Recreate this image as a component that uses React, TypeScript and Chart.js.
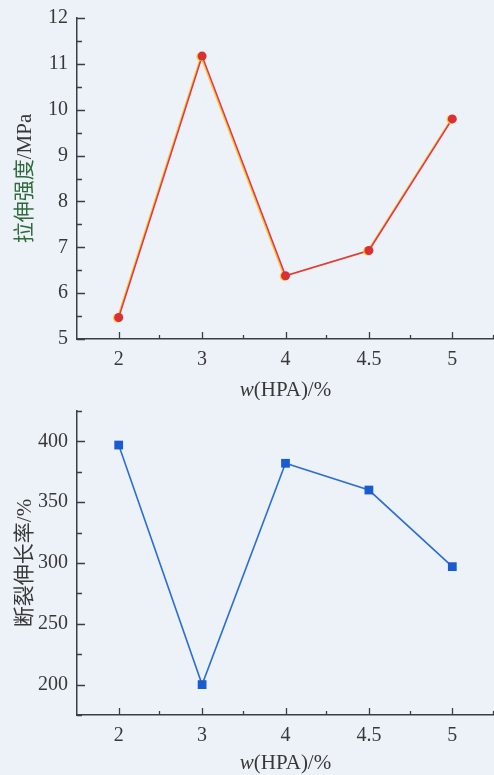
import React, { useEffect, useRef } from "react";
import { Chart, registerables } from "chart.js";

Chart.register(...registerables);

const xLabels = ["2", "3", "4", "4.5", "5"];
const tensileStrength = [5.47, 11.17, 6.38, 6.93, 9.8];
const elongation = [397, 200, 382, 360, 297];

const BG = "#edf2f8";
const AXIS = "#3a3f46";
const TEXT = "#383838";
const FONT_FAMILY = '"Liberation Serif", "DejaVu Serif", "Noto Sans CJK SC", serif';

type Seg = { text: string; color?: string; italic?: boolean };

function drawSegs(ctx: CanvasRenderingContext2D, segs: Seg[], cx: number, cy: number, size: number) {
  const fonts = segs.map((s) => `${s.italic ? "italic " : ""}${size}px ${FONT_FAMILY}`);
  const widths = segs.map((s, i) => {
    ctx.font = fonts[i];
    return ctx.measureText(s.text).width;
  });
  const total = widths.reduce((a, b) => a + b, 0);
  let x = cx - total / 2;
  ctx.textBaseline = "middle";
  ctx.textAlign = "left";
  segs.forEach((s, i) => {
    ctx.font = fonts[i];
    ctx.fillStyle = s.color || TEXT;
    ctx.fillText(s.text, x, cy);
    x += widths[i];
  });
}

function decoPlugin(cfg: { yTitle: Seg[]; xTitleY: number; isMajor: (v: number) => boolean; shadow?: string }) {
  return {
    id: "deco",
    beforeDatasetsDraw(chart: any) {
      if (cfg.shadow) {
        const ctx = chart.ctx;
        ctx.save();
        ctx.shadowColor = cfg.shadow;
        ctx.shadowOffsetX = -1.3;
        ctx.shadowOffsetY = 0.5;
        ctx.shadowBlur = 0;
      }
    },
    afterDatasetsDraw(chart: any) {
      if (cfg.shadow) chart.ctx.restore();
    },
    afterDraw(chart: any) {
      const { ctx, chartArea } = chart;
      const x = chart.scales.x;
      const y = chart.scales.y;
      ctx.save();
      ctx.strokeStyle = AXIS;
      ctx.lineWidth = 1.3;
      ctx.beginPath();
      y.ticks.forEach((t: any) => {
        const py = Math.round(y.getPixelForValue(t.value)) + 0.5;
        const len = cfg.isMajor(t.value) ? 8 : 5;
        ctx.moveTo(chartArea.left, py);
        ctx.lineTo(chartArea.left + len, py);
      });
      const n = xLabels.length;
      const half = (x.getPixelForValue(1) - x.getPixelForValue(0)) / 2;
      for (let i = 0; i < n; i++) {
        const px = Math.round(x.getPixelForValue(i)) + 0.5;
        ctx.moveTo(px, chartArea.bottom);
        ctx.lineTo(px, chartArea.bottom - 7);
        const mx = Math.round(x.getPixelForValue(i) + half) - 0.5;
        ctx.moveTo(mx, chartArea.bottom);
        ctx.lineTo(mx, chartArea.bottom - 4);
      }
      ctx.stroke();

      // y title (rotated)
      ctx.save();
      ctx.translate(25, (chartArea.top + chartArea.bottom) / 2);
      ctx.rotate(-Math.PI / 2);
      drawSegs(ctx, cfg.yTitle, 0, 0, 21);
      ctx.restore();

      // x title
      drawSegs(
        ctx,
        [{ text: "w", italic: true }, { text: "(HPA)/%" }],
        (chartArea.left + chartArea.right) / 2,
        cfg.xTitleY,
        21
      );
      ctx.restore();
    },
  };
}

function baseScales(yMin: number, yMax: number, step: number, isMajor: (v: number) => boolean, xHeight: number) {
  return {
    x: {
      type: "category" as const,
      offset: true,
      grid: { display: false, drawTicks: false },
      border: { display: true, color: AXIS, width: 1.5 },
      ticks: { color: TEXT, padding: 9, font: { family: FONT_FAMILY, size: 20 } },
      afterFit: (s: any) => {
        s.height = xHeight;
        s.paddingLeft = 0;
        s.paddingRight = 0;
      },
    },
    y: {
      min: yMin,
      max: yMax,
      grid: { display: false, drawTicks: false },
      border: { display: true, color: AXIS, width: 1.5 },
      ticks: {
        stepSize: step,
        autoSkip: false,
        color: TEXT,
        padding: 9,
        font: { family: FONT_FAMILY, size: 20 },
        callback: (v: any) => (isMajor(Number(v)) ? String(v) : ""),
      },
      afterFit: (s: any) => {
        s.width = 77;
        s.paddingTop = 0;
        s.paddingBottom = 0;
      },
    },
  };
}

export default function App() {
  const topRef = useRef<HTMLCanvasElement>(null);
  const botRef = useRef<HTMLCanvasElement>(null);

  useEffect(() => {
    document.body.style.margin = "0";
    document.body.style.background = BG;
    const majorTop = (v: number) => Math.abs(v - Math.round(v)) < 1e-6;
    const majorBot = (v: number) => Math.abs(v / 50 - Math.round(v / 50)) < 1e-6;

    const top = new Chart(topRef.current!, {
      type: "line",
      data: {
        labels: xLabels,
        datasets: [
          {
            data: tensileStrength,
            borderColor: "#e5354a",
            backgroundColor: "#dc2f35",
            borderWidth: 1.6,
            pointRadius: 4.5,
            pointBorderWidth: 0,
            pointStyle: "circle",
            tension: 0,
            clip: false,
          },
        ],
      },
      options: {
        responsive: false,
        animation: false,
        layout: { autoPadding: false, padding: { top: 18, right: 0, left: 0, bottom: 0 } },
        plugins: { legend: { display: false }, tooltip: { enabled: false } },
        scales: baseScales(5, 12, 0.5, majorTop, 61) as any,
      },
      plugins: [
        decoPlugin({
          yTitle: [
            { text: "拉伸强度", color: "#2f6b3c" },
            { text: "/MPa" },
          ],
          xTitleY: 390,
          isMajor: majorTop,
          shadow: "rgba(240,205,40,0.9)",
        }),
      ],
    });

    const bot = new Chart(botRef.current!, {
      type: "line",
      data: {
        labels: xLabels,
        datasets: [
          {
            data: elongation,
            borderColor: "#2a6fd6",
            backgroundColor: "#1a5ccf",
            borderWidth: 1.6,
            pointRadius: 6.2,
            pointBorderWidth: 0,
            pointStyle: "rect",
            tension: 0,
            clip: false,
          },
        ],
      },
      options: {
        responsive: false,
        animation: false,
        layout: { autoPadding: false, padding: { top: 11, right: 0, left: 0, bottom: 0 } },
        plugins: { legend: { display: false }, tooltip: { enabled: false } },
        scales: baseScales(175, 425, 25, majorBot, 60) as any,
      },
      plugins: [
        decoPlugin({
          yTitle: [{ text: "断裂伸长率/%" }],
          xTitleY: 363,
          isMajor: majorBot,
        }),
      ],
    });

    return () => {
      top.destroy();
      bot.destroy();
    };
  }, []);

  return (
    <div style={{ position: "absolute", left: 0, top: 0, width: 494, height: 775, background: BG }}>
      <canvas ref={topRef} width={494} height={400} style={{ display: "block", width: 494, height: 400 }} />
      <canvas ref={botRef} width={494} height={375} style={{ display: "block", width: 494, height: 375 }} />
    </div>
  );
}
